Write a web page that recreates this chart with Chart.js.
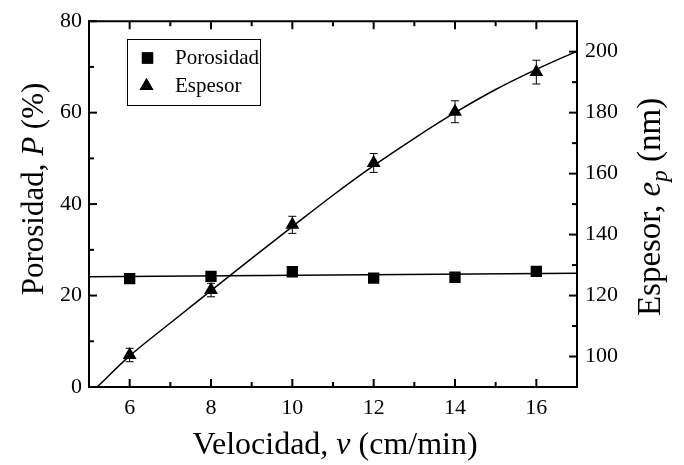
<!DOCTYPE html>
<html>
<head>
<meta charset="utf-8">
<script src="https://cdn.jsdelivr.net/npm/chart.js@4.4.1/dist/chart.umd.min.js"></script>
<style>
  html, body { margin: 0; padding: 0; background: #fff; }
  #wrap { width: 684px; height: 465px; }
</style>
</head>
<body>
<div id="wrap"><canvas id="chart" width="684" height="465"></canvas></div>
<script>
// datos medidos
const velocidad = [6, 8, 10, 12, 14, 16];
const porosidad = [23.7, 24.2, 25.2, 23.8, 24.0, 25.3];
const espesor = [100.5, 121.8, 143.2, 163.5, 180.3, 193.3];
const espesorErr = [2.2, 2.2, 2.8, 3.1, 3.6, 3.9];

// curvas de ajuste
const ajustePorX = [5, 17];
const ajustePorY = [24.1, 24.9];
const ajusteEspX = [5.2, 6, 7, 8, 9, 10, 11, 12, 13, 14, 15, 16, 17];
const ajusteEspY = [90, 100.2, 111, 121.6, 132.2, 142.6, 152.9, 162.6, 171.6, 180.0, 187.6, 194.2, 200.2];

// ticks
const xTicks = [6, 8, 10, 12, 14, 16];
const xMinor = [7, 9, 11, 13, 15];
const yTicks = [0, 20, 40, 60, 80];
const yMinor = [10, 30, 50, 70];
const y2Ticks = [100, 120, 140, 160, 180, 200];
const y2Minor = [110, 130, 150, 170, 190];

const SERIF = "'Liberation Serif', 'Times New Roman', serif";

function pts(xs, ys) {
    return xs.map((x, i) => ({ x: x, y: ys[i] }));
}

function drawRich(ctx, parts, cx, cy, size, rot) {
    ctx.save();
    ctx.translate(cx, cy);
    if (rot) ctx.rotate(rot);
    ctx.textBaseline = 'middle';
    ctx.textAlign = 'left';
    let total = 0;
    parts.forEach(p => {
        const s = p.sub ? size * 0.7 : size;
        ctx.font = (p.italic ? 'italic ' : '') + s + 'px ' + SERIF;
        p.w = ctx.measureText(p.t).width;
        total += p.w;
    });
    let x = -total / 2;
    parts.forEach(p => {
        const s = p.sub ? size * 0.7 : size;
        ctx.font = (p.italic ? 'italic ' : '') + s + 'px ' + SERIF;
        ctx.fillText(p.t, x, p.sub ? size * 0.3 : 0);
        x += p.w;
    });
    ctx.restore();
}

const decor = {
    id: 'decor',
    afterDraw(chart) {
        const { ctx, chartArea: a, scales } = chart;
        const sx = scales.x, sy = scales.y, sy2 = scales.y2;
        ctx.save();
        ctx.strokeStyle = '#000';
        ctx.fillStyle = '#000';

        // borde superior
        ctx.lineWidth = 2;
        ctx.beginPath();
        ctx.moveTo(a.left - 1, a.top);
        ctx.lineTo(a.right + 1, a.top);
        ctx.stroke();

        // marcas hacia dentro
        const tick = (x1, y1, x2, y2) => {
            ctx.beginPath(); ctx.moveTo(x1, y1); ctx.lineTo(x2, y2); ctx.stroke();
        };
        xTicks.forEach(v => {
            const px = sx.getPixelForValue(v);
            tick(px, a.bottom, px, a.bottom - 8);
            tick(px, a.top, px, a.top + 8);
        });
        xMinor.forEach(v => {
            const px = sx.getPixelForValue(v);
            tick(px, a.bottom, px, a.bottom - 5);
            tick(px, a.top, px, a.top + 5);
        });
        yTicks.forEach(v => { const py = sy.getPixelForValue(v); tick(a.left, py, a.left + 8, py); });
        yMinor.forEach(v => { const py = sy.getPixelForValue(v); tick(a.left, py, a.left + 5, py); });
        y2Ticks.forEach(v => { const py = sy2.getPixelForValue(v); tick(a.right, py, a.right - 8, py); });
        y2Minor.forEach(v => { const py = sy2.getPixelForValue(v); tick(a.right, py, a.right - 5, py); });

        // barras de error
        ctx.lineWidth = 1;
        velocidad.forEach((v, i) => {
            const px = sx.getPixelForValue(v);
            const top = sy2.getPixelForValue(espesor[i] + espesorErr[i]);
            const bot = sy2.getPixelForValue(espesor[i] - espesorErr[i]);
            tick(px, top, px, bot);
            tick(px - 4, top, px + 4, top);
            tick(px - 4, bot, px + 4, bot);
        });

        // leyenda
        ctx.lineWidth = 1;
        ctx.strokeRect(127.5, 39.5, 133, 66);
        Chart.helpers.drawPoint(ctx, { pointStyle: 'rect', radius: 8, borderWidth: 0 }, 147.5, 58);
        ctx.fill();
        Chart.helpers.drawPoint(ctx, { pointStyle: 'triangle', radius: 8, borderWidth: 0 }, 146.5, 86);
        ctx.fill();
        ctx.font = '21px ' + SERIF;
        ctx.textBaseline = 'middle';
        ctx.textAlign = 'left';
        ctx.fillText('Porosidad', 175, 58);
        ctx.fillText('Espesor', 175, 86);

        // titulos de ejes
        drawRich(ctx, [{ t: 'Velocidad, ' }, { t: 'v', italic: true }, { t: ' (cm/min)' }], 335, 446, 32, 0);
        drawRich(ctx, [{ t: 'Porosidad, ' }, { t: 'P', italic: true }, { t: ' (%)' }], 35, 189, 31, -Math.PI / 2);
        drawRich(ctx, [{ t: 'Espesor, ' }, { t: 'e', italic: true }, { t: 'p', italic: true, sub: true }, { t: ' (nm)' }], 651, 207, 33, -Math.PI / 2);
        ctx.restore();
    }
};

const tickFont = { family: SERIF, size: 22 };

new Chart(document.getElementById('chart'), {
    type: 'scatter',
    data: {
        datasets: [
            {
                label: 'Porosidad',
                data: pts(velocidad, porosidad),
                yAxisID: 'y',
                pointStyle: 'rect',
                pointRadius: 8,
                backgroundColor: '#000',
                borderColor: '#000',
                borderWidth: 0,
                showLine: false,
                order: 0
            },
            {
                label: 'Espesor',
                data: pts(velocidad, espesor),
                yAxisID: 'y2',
                pointStyle: 'triangle',
                pointRadius: 8,
                backgroundColor: '#000',
                borderColor: '#000',
                borderWidth: 0,
                showLine: false,
                order: 0
            },
            {
                label: 'ajuste P',
                data: pts(ajustePorX, ajustePorY),
                yAxisID: 'y',
                showLine: true,
                pointRadius: 0,
                borderColor: '#000',
                borderWidth: 1.5,
                order: 1
            },
            {
                label: 'ajuste e',
                data: pts(ajusteEspX, ajusteEspY),
                yAxisID: 'y2',
                showLine: true,
                pointRadius: 0,
                borderColor: '#000',
                borderWidth: 1.5,
                cubicInterpolationMode: 'monotone',
                order: 1
            }
        ]
    },
    options: {
        responsive: false,
        animation: false,
        layout: { padding: { top: 17, left: 0, right: 0, bottom: 0 } },
        plugins: {
            legend: { display: false },
            tooltip: { enabled: false }
        },
        scales: {
            x: {
                type: 'linear',
                min: 5,
                max: 17,
                grid: { display: false, drawTicks: false },
                border: { display: true, color: '#000', width: 2 },
                ticks: { color: '#000', font: tickFont, padding: 8, maxRotation: 0 },
                afterBuildTicks: s => { s.ticks = xTicks.map(v => ({ value: v })); },
                afterFit: s => { s.height = 78; }
            },
            y: {
                type: 'linear',
                position: 'left',
                min: 0,
                max: 80,
                grid: { display: false, drawTicks: false },
                border: { display: true, color: '#000', width: 2 },
                ticks: { color: '#000', font: tickFont, padding: 7 },
                afterBuildTicks: s => { s.ticks = yTicks.map(v => ({ value: v })); },
                afterFit: s => { s.width = 89; }
            },
            y2: {
                type: 'linear',
                position: 'right',
                min: 90,
                max: 210,
                grid: { display: false, drawTicks: false },
                border: { display: true, color: '#000', width: 2 },
                ticks: { color: '#000', font: tickFont, padding: 8 },
                afterBuildTicks: s => { s.ticks = y2Ticks.map(v => ({ value: v })); },
                afterFit: s => { s.width = 107; }
            }
        }
    },
    plugins: [decor]
});
</script>
</body>
</html>
